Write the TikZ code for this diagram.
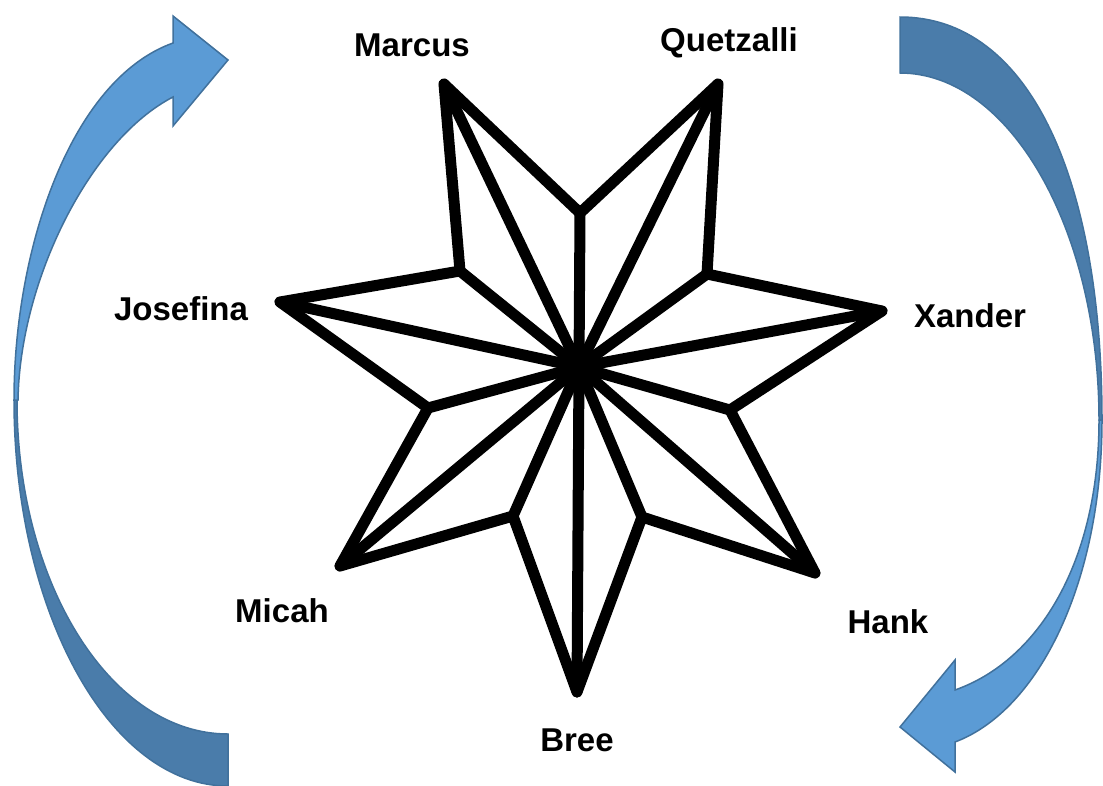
\documentclass[tikz,border=0pt]{standalone}
\usepackage{fontspec}
\setmainfont{Liberation Sans}
\definecolor{arrlight}{HTML}{5B9BD5}
\definecolor{arrdark}{HTML}{4A7CAA}
\definecolor{arredge}{HTML}{41719C}
\begin{document}
\begin{tikzpicture}[x=1pt,y=-1pt,
  starline/.style={line width=11pt,line join=round,line cap=round,black},
  lbl/.style={font=\fontsize{33}{38}\selectfont\bfseries,inner sep=0pt,anchor=center},
  arrfront/.style={fill=arrlight,draw=arredge,line width=1.5pt,line join=miter},
  arrback/.style={fill=arrdark,draw=arredge,line width=1.5pt}]
\useasboundingbox (0,0) rectangle (1103,785);
% star coordinates
\coordinate (C) at (579,367);
\coordinate (tM) at (444,84);
\coordinate (tQ) at (718,84);
\coordinate (tX) at (882,311);
\coordinate (tH) at (815,573);
\coordinate (tB) at (577,692);
\coordinate (tMi) at (340,566);
\coordinate (tJ) at (280,302);
\coordinate (iT) at (580,213);
\coordinate (iTR) at (707,274);
\coordinate (iR) at (730,410);
\coordinate (iBR) at (642,517);
\coordinate (iBL) at (513,516);
\coordinate (iL) at (428,408);
\coordinate (iTL) at (460,271);
% outline
\draw[starline] (tM) -- (iT) -- (tQ) -- (iTR) -- (tX) -- (iR) -- (tH) -- (iBR) -- (tB) -- (iBL) -- (tMi) -- (iL) -- (tJ) -- (iTL) -- cycle;
% spokes
\foreach \p in {tM,tQ,tX,tH,tB,tMi,tJ,iT,iTR,iR,iBR,iBL,iL,iTL}
  \draw[starline] (C) -- (\p);
\fill[black] (C) circle (18);
% labels
\node[lbl] (Marcus) at (412,45) {Marcus};
\node[lbl] (Quetzalli) at (729,43) {Quetzalli};
\node[lbl] (Xander) at (970,316) {Xander};
\node[lbl] (Josefina) at (181,309) {Josefina};
\node[lbl] (Micah) at (282,611) {Micah};
\node[lbl] (Hank) at (888,622) {Hank};
\node[lbl] (Bree) at (577,740) {Bree};
% left curved arrow
\draw[arrback] (14,400) .. controls (14,612) and (110,786) .. (228,786) -- (228,734) .. controls (111,734) and (17,584) .. (17,400) -- cycle;
\draw[arrfront] (14,400) .. controls (14,250) and (70,80) .. (173,43) -- (173,16) -- (228,60) -- (173,126) -- (173,97) .. controls (90,140) and (20,280) .. (18,400) -- cycle;
% right curved arrow
\draw[arrback] (900,17) .. controls (1030,17) and (1102,180) .. (1102,420) -- (1099,420) .. controls (1099,230) and (1010,73) .. (900,73) -- cycle;
\draw[arrfront] (1102,420) .. controls (1102,580) and (1040,710) .. (955,742) -- (955,772) -- (900,727) -- (955,660) -- (955,690) .. controls (1040,660) and (1099,560) .. (1099,420) -- cycle;
\end{tikzpicture}
\end{document}
